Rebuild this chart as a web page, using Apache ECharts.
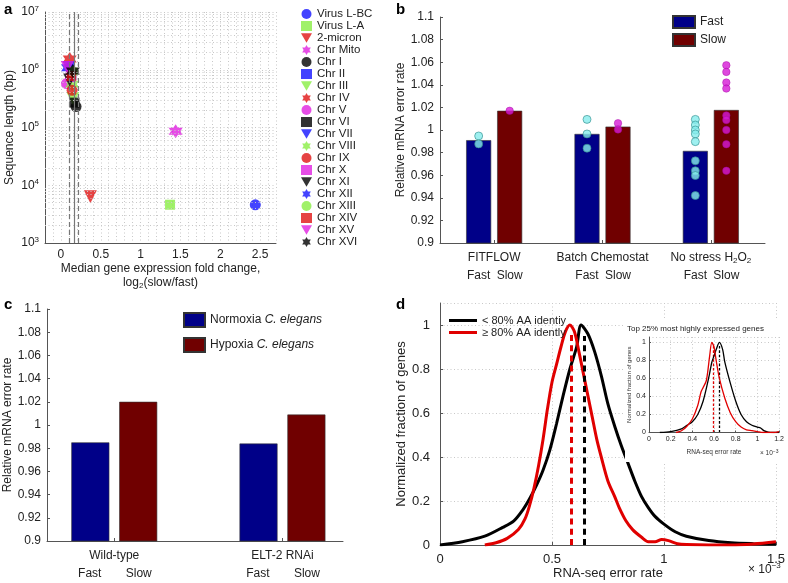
<!DOCTYPE html>
<html>
<head>
<meta charset="utf-8">
<script src="https://cdn.jsdelivr.net/npm/echarts@6/dist/echarts.min.js"></script>
<style>
  html, body { margin: 0; padding: 0; background: #fff; }
  #main { width: 788px; height: 583px; }
</style>
</head>
<body>
<div id="main"></div>
<script>
// ---- panel a: fold change vs sequence length ----
var seqNames = ['Virus L-BC', 'Virus L-A', '2-micron', 'Chr Mito', 'Chr I', 'Chr II', 'Chr III', 'Chr IV',
  'Chr V', 'Chr VI', 'Chr VII', 'Chr VIII', 'Chr IX', 'Chr X', 'Chr XI', 'Chr XII', 'Chr XIII', 'Chr XIV',
  'Chr XV', 'Chr XVI'];
var foldChange = [2.44, 1.37, 0.37, 1.44, 0.19, 0.13, 0.15, 0.11, 0.07, 0.17, 0.10, 0.14, 0.14, 0.12,
  0.11, 0.09, 0.15, 0.13, 0.08, 0.15];
var seqLength = [4580, 4600, 6300, 85800, 230000, 813000, 317000, 1532000, 577000, 270000, 1091000,
  563000, 440000, 746000, 667000, 1078000, 924000, 784000, 1091000, 948000];
var medianFold = 0.167;
var medianBand = [0.107, 0.22];

// ---- panel b: yeast conditions ----
var bGroups = ['FITFLOW', 'Batch Chemostat', 'No stress H2O2'];
var bFast = [0.991, 0.9965, 0.9815];
var bSlow = [1.017, 1.003, 1.0177];
var bFastPts = [[0.9947, 0.9877], [1.0094, 0.9965, 0.9839],
  [1.0094, 1.0044, 1.0, 0.9965, 0.9897, 0.9727, 0.9639, 0.9597, 0.942]];
var bSlowPts = [[1.017], [1.006, 1.0005],
  [1.0573, 1.0514, 1.042, 1.0367, 1.0129, 1.0088, 1.0, 0.9874, 0.9639]];

// ---- panel c: C. elegans ----
var cGroups = ['Wild-type', 'ELT-2 RNAi'];
var cNormoxia = [0.985, 0.984];
var cHypoxia = [1.02, 1.009];

// ---- panel d: error rate distributions (x in 1e-3) ----
var dLowX = [0, 0.1, 0.2, 0.28, 0.33, 0.37, 0.4, 0.43, 0.46, 0.49, 0.52, 0.55, 0.58, 0.61, 0.63,
  0.66, 0.69, 0.72, 0.75, 0.78, 0.81, 0.84, 0.87, 0.9, 0.93, 0.96, 1.0, 1.05, 1.1, 1.2, 1.3, 1.4, 1.5];
var dLowY = [0, 0.015, 0.04, 0.08, 0.11, 0.16, 0.21, 0.27, 0.34, 0.43, 0.55, 0.68, 0.8, 0.9, 1.0,
  0.96, 0.88, 0.77, 0.64, 0.54, 0.45, 0.37, 0.29, 0.22, 0.17, 0.13, 0.095, 0.06, 0.04, 0.02, 0.01, 0.006, 0.004];
var dHighX = [0.2, 0.25, 0.3, 0.35, 0.38, 0.4, 0.42, 0.44, 0.46, 0.48, 0.5, 0.52, 0.54, 0.56, 0.58,
  0.6, 0.62, 0.64, 0.66, 0.68, 0.7, 0.72, 0.75, 0.78, 0.8, 0.83, 0.86, 0.9, 0.93, 0.96, 0.99, 1.02,
  1.06, 1.1, 1.2, 1.3, 1.4, 1.5];
var dHighY = [0, 0.01, 0.03, 0.07, 0.12, 0.18, 0.26, 0.36, 0.48, 0.62, 0.74, 0.82, 0.9, 0.97, 1.0,
  0.97, 0.88, 0.78, 0.68, 0.58, 0.48, 0.4, 0.29, 0.22, 0.17, 0.11, 0.07, 0.035, 0.015, 0.015, 0.025, 0.02,
  0.006, 0.002, 0, 0, 0.005, 0.015];
var dMedians = [0.646, 0.587];

// inset: top 25% most highly expressed genes
var iLowX = [0.1, 0.2, 0.3, 0.35, 0.4, 0.45, 0.5, 0.55, 0.58, 0.6, 0.62, 0.65, 0.68, 0.7, 0.75, 0.8,
  0.85, 0.9, 0.95, 1.0, 1.03, 1.06, 1.1, 1.2];
var iLowY = [0, 0.01, 0.04, 0.08, 0.12, 0.2, 0.35, 0.6, 0.78, 0.85, 0.92, 1.0, 0.92, 0.78, 0.55, 0.35,
  0.2, 0.12, 0.08, 0.06, 0.05, 0.02, 0.005, 0];
var iHighX = [0.25, 0.3, 0.35, 0.4, 0.45, 0.48, 0.5, 0.53, 0.56, 0.58, 0.6, 0.62, 0.65, 0.7, 0.75, 0.8,
  0.85, 0.9, 0.95, 1.0, 1.05, 1.15, 1.2];
var iHighY = [0, 0.02, 0.07, 0.15, 0.3, 0.45, 0.5, 0.58, 0.85, 1.0, 0.95, 0.8, 0.6, 0.38, 0.22, 0.12,
  0.06, 0.03, 0.02, 0.01, 0, 0, 0.01];
var iMedians = [0.645, 0.59];

var chart = echarts.init(document.getElementById('main'));

var FONT = '"Liberation Sans", Arial, sans-serif';
var AX = '#555';
var markerColors = ['#1414ff', '#88ee44', '#e01414', '#e020e0', '#000000'];
var triDown = 'path://M0,0 L10,0 L5,8.66 Z';
var hexagram = 'path://M5,0 L6.44,2.5 L9.33,2.5 L7.89,5 L9.33,7.5 L6.44,7.5 L5,10 L3.56,7.5 L0.67,7.5 L2.11,5 L0.67,2.5 L3.56,2.5 Z';
var markerShapes = ['circle', 'rect', triDown, hexagram];
var markerSizes = [11, 10, 13, 14];

function zip(xs, ys) {
  return xs.map(function (x, i) { return [x, ys[i]]; });
}
function trimNum(v, d) {
  return String(parseFloat(v.toFixed(d)));
}
var supRich = { sup: { fontSize: 8, padding: [0, 0, 7, 0] }, sub: { fontSize: 8, padding: [6, 0, 0, 0] } };
var axLine = { show: true, onZero: false, lineStyle: { color: AX, width: 1 } };
var dotted = { show: true, lineStyle: { color: '#c8c8c8', type: [1, 2.5], width: 1 } };

// panel a scatter series, one per sequence
var series = [];
seqNames.forEach(function (n, i) {
  series.push({
    type: 'scatter', name: n, xAxisIndex: 0, yAxisIndex: 0,
    data: [[foldChange[i], seqLength[i]]],
    symbol: markerShapes[i % 4], symbolSize: markerSizes[i % 4],
    itemStyle: { color: markerColors[i % 5] }, z: 3
  });
});
// log minor grid + median lines for panel a
var minorVals = [];
[1e3, 1e4, 1e5, 1e6].forEach(function (d) {
  for (var k = 2; k <= 9; k++) minorVals.push({ yAxis: d * k });
});
series.push({
  type: 'scatter', name: 'a-grid', xAxisIndex: 0, yAxisIndex: 0, data: [], z: 1,
  markLine: { silent: true, symbol: 'none', label: { show: false },
    lineStyle: { color: '#c8c8c8', type: [1, 2.5], width: 1 }, data: minorVals }
});
series.push({
  type: 'scatter', name: 'a-median', xAxisIndex: 0, yAxisIndex: 0, data: [], z: 2,
  markLine: { silent: true, symbol: 'none', label: { show: false },
    data: [
      { xAxis: medianFold, lineStyle: { color: '#777', type: 'solid', width: 1.2 } },
      { xAxis: medianBand[0], lineStyle: { color: '#777', type: [5, 3], width: 1.2 } },
      { xAxis: medianBand[1], lineStyle: { color: '#777', type: [5, 3], width: 1.2 } }
    ] }
});

// panel b
var barBorder = { borderColor: '#333', borderWidth: 0.6 };
series.push({ type: 'bar', name: 'Fast', xAxisIndex: 1, yAxisIndex: 1, data: bFast, barWidth: 25, barGap: '24%',
  itemStyle: Object.assign({ color: '#000088' }, barBorder) });
series.push({ type: 'bar', name: 'Slow', xAxisIndex: 1, yAxisIndex: 1, data: bSlow, barWidth: 25,
  itemStyle: Object.assign({ color: '#700000' }, barBorder) });
var fastPts = [], slowPts = [];
bFastPts.forEach(function (arr, g) { arr.forEach(function (v) { fastPts.push([g, v]); }); });
bSlowPts.forEach(function (arr, g) { arr.forEach(function (v) { slowPts.push([g, v]); }); });
series.push({ type: 'scatter', name: 'fast-pts', xAxisIndex: 1, yAxisIndex: 1, data: fastPts,
  symbolSize: 8, symbolOffset: [-15.5, 0], z: 4,
  itemStyle: { color: '#86ecec', borderColor: '#2f8c8c', borderWidth: 0.8 } });
series.push({ type: 'scatter', name: 'slow-pts', xAxisIndex: 1, yAxisIndex: 1, data: slowPts,
  symbolSize: 7.5, symbolOffset: [15.5, 0], z: 4,
  itemStyle: { color: '#d61ad6', borderColor: '#a000a0', borderWidth: 0.5 } });

// panel c
series.push({ type: 'bar', name: 'Normoxia C. elegans', xAxisIndex: 2, yAxisIndex: 2,
  data: zip([1, 2], cNormoxia), barWidth: 38, barGap: '26%',
  itemStyle: Object.assign({ color: '#000088' }, barBorder) });
series.push({ type: 'bar', name: 'Hypoxia C. elegans', xAxisIndex: 2, yAxisIndex: 2,
  data: zip([1, 2], cHypoxia), barWidth: 38,
  itemStyle: Object.assign({ color: '#700000' }, barBorder) });

// panel d
function curve(name, xi, yi, xs, ys, color, width, med, medTop, z) {
  return {
    type: 'line', name: name, xAxisIndex: xi, yAxisIndex: yi, data: zip(xs, ys),
    showSymbol: false, smooth: 0.3, z: z,
    lineStyle: { color: color, width: width }, itemStyle: { color: color },
    markLine: { silent: true, symbol: 'none', label: { show: false },
      lineStyle: { color: color, type: [width * 2, width * 1.4], width: width },
      data: [[{ coord: [med, 0] }, { coord: [med, medTop] }]] }
  };
}
series.push(curve('< 80% AA identiy', 3, 3, dLowX, dLowY, '#000000', 3, dMedians[0], 0.95, 3));
series.push(curve('\u2265 80% AA idently', 3, 3, dHighX, dHighY, '#e00000', 3, dMedians[1], 0.96, 3));
series.push(curve('inset-low', 4, 4, iLowX, iLowY, '#000000', 1.3, iMedians[0], 0.97, 12));
series.push(curve('inset-high', 4, 4, iHighX, iHighY, '#e00000', 1.3, iMedians[1], 0.97, 12));

var tickIn = { show: true, inside: true, length: 3, lineStyle: { color: AX } };
var lbl = { color: '#222', fontFamily: FONT, fontSize: 12 };

var option = {
  animation: false,
  textStyle: { fontFamily: FONT },
  grid: [
    { left: 45, top: 12, width: 231, height: 231 },
    { left: 440, top: 17, width: 325, height: 226 },
    { left: 47, top: 309, width: 296, height: 238 },
    { left: 440, top: 303, width: 338, height: 242 },
    { left: 649, top: 337, width: 130, height: 95.5, z: 10 }
  ],
  xAxis: [
    { gridIndex: 0, type: 'value', min: -0.2, max: 2.7, interval: 0.1,
      axisLine: axLine, axisTick: { show: false }, splitLine: dotted,
      axisLabel: Object.assign({}, lbl, { margin: 6, formatter: function (v) {
        var h = v * 2; return Math.abs(h - Math.round(h)) < 1e-6 ? String(Math.round(h) / 2) : ''; } }),
      name: 'Median gene expression fold change,\nlog{sub|2}(slow/fast)', nameLocation: 'middle', nameGap: 19,
      nameTextStyle: { color: '#222', fontSize: 12, lineHeight: 14, rich: supRich } },
    { gridIndex: 1, type: 'category', data: bGroups,
      axisLine: axLine, axisTick: Object.assign({ alignWithLabel: true }, tickIn),
      axisLabel: Object.assign({}, lbl, { margin: 6, lineHeight: 18, interval: 0,
        formatter: function (v) { return v.replace('H2O2', 'H{sub|2}O{sub|2}') + '\n{f|Fast}{s|Slow}'; },
        rich: { sub: { fontSize: 8, padding: [6, 0, 0, 0] }, f: { width: 31, align: 'center', fontSize: 12 },
          s: { width: 31, align: 'center', fontSize: 12 } } }) },
    { gridIndex: 2, type: 'value', min: 0.6, max: 2.36,
      axisLine: axLine, splitLine: { show: false },
      axisTick: Object.assign({ customValues: [1, 2] }, tickIn),
      axisLabel: Object.assign({}, lbl, { customValues: [1, 2], margin: 6, lineHeight: 18,
        formatter: function (v) { return cGroups[Math.round(v) - 1] + '\n{f|Fast}{s|Slow}'; },
        rich: { f: { width: 49, align: 'center', fontSize: 12 }, s: { width: 49, align: 'center', fontSize: 12 } } }) },
    { gridIndex: 3, type: 'value', min: 0, max: 1.5, interval: 0.5,
      axisLine: axLine, axisTick: tickIn, splitLine: dotted,
      axisLabel: Object.assign({}, lbl, { fontSize: 13, margin: 8, formatter: function (v) { return trimNum(v, 1); } }),
      name: 'RNA-seq error rate', nameLocation: 'middle', nameGap: 21,
      nameTextStyle: { color: '#222', fontSize: 13 } },
    { gridIndex: 4, type: 'value', min: 0, max: 1.2, interval: 0.2, z: 10,
      axisLine: axLine, axisTick: { show: true, inside: true, length: 2, lineStyle: { color: AX } }, splitLine: dotted,
      axisLabel: Object.assign({}, lbl, { fontSize: 7, margin: 3, formatter: function (v) { return trimNum(v, 1); } }),
      name: 'RNA-seq error rate', nameLocation: 'middle', nameGap: 16,
      nameTextStyle: { color: '#333', fontSize: 6.5 } }
  ],
  yAxis: [
    { gridIndex: 0, type: 'log', logBase: 10, min: 1e3, max: 1e7,
      axisLine: axLine, axisTick: { show: false }, splitLine: dotted,
      axisLabel: Object.assign({}, lbl, { margin: 6, formatter: function (v) {
        return '10{sup|' + Math.round(Math.log(v) / Math.LN10) + '}'; }, rich: supRich }),
      name: 'Sequence length (bp)', nameLocation: 'middle', nameGap: 29,
      nameTextStyle: { color: '#222', fontSize: 12 } },
    { gridIndex: 1, type: 'value', min: 0.9, max: 1.1, interval: 0.02,
      axisLine: axLine, axisTick: tickIn, splitLine: { show: false },
      axisLabel: Object.assign({}, lbl, { margin: 6, formatter: function (v) { return trimNum(v, 2); } }),
      name: 'Relative mRNA error rate', nameLocation: 'middle', nameGap: 32,
      nameTextStyle: { color: '#222', fontSize: 12 } },
    { gridIndex: 2, type: 'value', min: 0.9, max: 1.1, interval: 0.02,
      axisLine: axLine, axisTick: tickIn, splitLine: { show: false },
      axisLabel: Object.assign({}, lbl, { margin: 6, formatter: function (v) { return trimNum(v, 2); } }),
      name: 'Relative mRNA error rate', nameLocation: 'middle', nameGap: 33,
      nameTextStyle: { color: '#222', fontSize: 12 } },
    { gridIndex: 3, type: 'value', min: 0, max: 1.1, interval: 0.2,
      axisLine: axLine, axisTick: tickIn, splitLine: dotted,
      axisLabel: Object.assign({}, lbl, { fontSize: 13, margin: 10, showMaxLabel: false,
        formatter: function (v) { return v > 1.05 ? '' : trimNum(v, 1); } }),
      name: 'Normalized fraction of genes', nameLocation: 'middle', nameGap: 30,
      nameTextStyle: { color: '#222', fontSize: 13 } },
    { gridIndex: 4, type: 'value', min: 0, max: 1.06, interval: 0.2, z: 10,
      axisLine: axLine, axisTick: { show: true, inside: true, length: 2, lineStyle: { color: AX } }, splitLine: dotted,
      axisLabel: Object.assign({}, lbl, { fontSize: 7, margin: 3, showMaxLabel: false,
        formatter: function (v) { return v > 1.01 ? '' : trimNum(v, 1); } }),
      name: 'Normalized fraction of genes', nameLocation: 'middle', nameGap: 14,
      nameTextStyle: { color: '#333', fontSize: 6 } }
  ],
  legend: [
    { data: seqNames, orient: 'vertical', left: 296, top: 3, itemWidth: 11, itemHeight: 10, itemGap: 0,
      textStyle: { fontSize: 11.5, lineHeight: 10, color: '#222' }, selectedMode: false },
    { data: ['Fast', 'Slow'], orient: 'vertical', left: 667, top: 10, icon: 'rect', itemWidth: 22, itemHeight: 12,
      itemGap: 4, textStyle: { fontSize: 12, color: '#222' }, selectedMode: false },
    { data: ['Normoxia C. elegans', 'Hypoxia C. elegans'], orient: 'vertical', left: 178, top: 307, icon: 'rect',
      itemWidth: 21, itemHeight: 14, itemGap: 9, selectedMode: false,
      formatter: function (n) { var p = n.split(' '); return p[0] + ' {i|' + p.slice(1).join(' ') + '}'; },
      textStyle: { fontSize: 12, color: '#222', rich: { i: { fontStyle: 'italic', fontSize: 12, color: '#222' } } } },
    { data: ['< 80% AA identiy', '\u2265 80% AA idently'], orient: 'vertical', left: 444, top: 310, icon: 'rect',
      itemWidth: 28, itemHeight: 3, itemGap: 1, selectedMode: false,
      textStyle: { fontSize: 11, lineHeight: 10.5, color: '#222' } }
  ],
  graphic: { elements: [
    { type: 'rect', z: 5, shape: { x: 625, y: 320, width: 163, height: 142 }, style: { fill: '#fff' } },
    { type: 'text', z: 20, left: 627, top: 325, style: { text: 'Top 25% most highly expressed genes',
      fontSize: 8, fill: '#222', fontFamily: FONT } },
    { type: 'text', z: 20, left: 760, top: 449, style: { text: '\u00d7 10{sup|\u22123}', fontSize: 6.5, fill: '#333',
      fontFamily: FONT, rich: { sup: { fontSize: 5, padding: [0, 0, 4, 0] } } } },
    { type: 'text', left: 748, top: 562, style: { text: '\u00d7 10{sup|\u22123}', fontSize: 12, fill: '#222',
      fontFamily: FONT, rich: { sup: { fontSize: 8, padding: [0, 0, 7, 0] } } } },
    { type: 'text', left: 4, top: 2, style: { text: 'a', fontSize: 15, fontWeight: 'bold', fill: '#000', fontFamily: FONT } },
    { type: 'text', left: 396, top: 2, style: { text: 'b', fontSize: 15, fontWeight: 'bold', fill: '#000', fontFamily: FONT } },
    { type: 'text', left: 4, top: 297, style: { text: 'c', fontSize: 15, fontWeight: 'bold', fill: '#000', fontFamily: FONT } },
    { type: 'text', left: 396, top: 297, style: { text: 'd', fontSize: 15, fontWeight: 'bold', fill: '#000', fontFamily: FONT } }
  ] },
  series: series
};
chart.setOption(option);
</script>
</body>
</html>
